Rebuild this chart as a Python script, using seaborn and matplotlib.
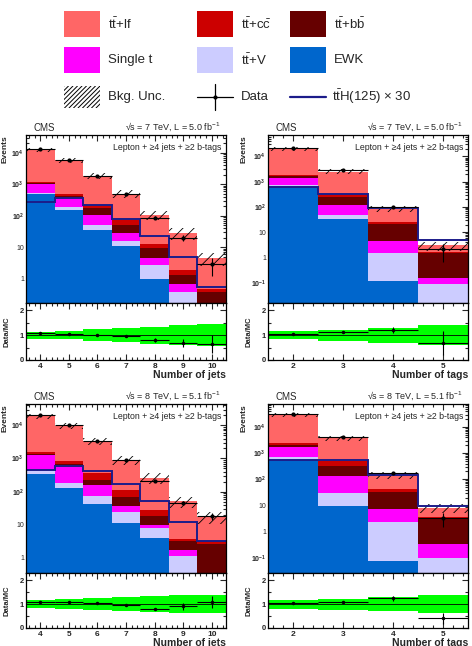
import numpy as np
import pandas as pd
import seaborn as sns
import matplotlib.pyplot as plt
from matplotlib.patches import Rectangle
from matplotlib.ticker import FixedLocator, MultipleLocator, FuncFormatter, LogLocator, NullFormatter

sns.set_style('ticks')
plt.rcParams['font.family'] = ['Liberation Sans', 'DejaVu Sans']
plt.rcParams['mathtext.fontset'] = 'custom'
plt.rcParams['mathtext.rm'] = 'Liberation Sans'
plt.rcParams['mathtext.it'] = 'Liberation Sans:italic'
plt.rcParams['mathtext.bf'] = 'Liberation Sans:bold'
plt.rcParams['hatch.linewidth'] = 0.6

# stack order: first = top of stack, last = bottom
procs = ['ttlf', 'ttcc', 'ttbb', 'singlet', 'ttV', 'EWK']
colors = {'ttlf': '#ff6666', 'ttcc': '#cc0000', 'ttbb': '#660000',
          'singlet': '#ff00ff', 'ttV': '#ccccff', 'EWK': '#0066cc'}
tth_color = '#1c1c8a'

jet_bins = [4, 5, 6, 7, 8, 9, 10]
tag_bins = [2, 3, 4, 5]

# 7 TeV, number of jets
j7_ewk = [500, 155, 36, 11, 1.0, 0.1, 0.02]
j7_ttv = [40, 30, 16, 5.4, 1.7, 0.27, 0.03]
j7_st = [500, 180, 56, 12.6, 1.8, 0.31, 0.05]
j7_bb = [100, 70, 67, 23, 4.8, 0.62, 0.27]
j7_cc = [90, 65, 50, 23, 3.5, 0.6, 0.12]
j7_lf = [10970, 5350, 1675, 425, 95, 27, 4.0]
j7_tth = [280, 360, 220, 80, 23, 5, 0.55]
j7_data = [13200, 6080, 1900, 485, 87, 20, 2.9]
j7_unc = [0.15, 0.17, 0.24, 0.28, 0.34, 0.40, 0.45]

# 7 TeV, number of tags
t7_ewk = [615, 35, 0.115, 0.005]
t7_ttv = [145, 12, 1.45, 0.085]
t7_st = [660, 77, 3.0, 0.07]
t7_bb = [200, 126, 17.4, 1.32]
t7_cc = [150, 66, 4.0, 0.22]
t7_lf = [17730, 2204, 61, 1.3]
t7_tth = [600, 316, 95, 4.9]
t7_data = [20500, 2850, 104, 2.1]
t7_unc = [0.17, 0.23, 0.30, 0.40]

# 8 TeV, number of jets
j8_ewk = [333, 132, 41, 11.4, 4.0, 0.2, 0.05]
j8_ttv = [104, 50, 31, 12.6, 4.0, 0.92, 0.05]
j8_st = [813, 368, 83, 13, 2.0, 0.58, 0.05]
j8_bb = [150, 140, 65, 32, 9, 1.6, 2.45]
j8_cc = [190, 150, 155, 46, 8, 0.3, 0.6]
j8_lf = [17410, 8720, 2925, 805, 238, 47.4, 13.8]
j8_tth = [460, 590, 410, 166, 52, 12, 3.2]
j8_data = [20500, 10300, 3430, 890, 210, 46, 18.7]
j8_unc = [0.17, 0.20, 0.25, 0.30, 0.35, 0.38, 0.38]

# 8 TeV, number of tags
t8_ewk = [545, 9.5, 0.076, 0.003]
t8_ttv = [175, 21.5, 2.2, 0.097]
t8_st = [1030, 102, 4.8, 0.23]
t8_bb = [350, 187, 25.9, 2.62]
t8_cc = [400, 180, 8, 0.75]
t8_lf = [27500, 3140, 100, 4.6]
t8_tth = [545, 545, 141, 9.5]
t8_data = [31000, 4000, 175, 3.3]
t8_unc = [0.19, 0.23, 0.30, 0.38]

W, H = 472, 646
fig = plt.figure(figsize=(W / 100, H / 100), dpi=100)


def add_ax(l, t, r, b):
    return fig.add_axes([l / W, 1 - b / H, (r - l) / W, (b - t) / H])


def log_fmt(v, pos):
    if v <= 0:
        return ''
    e = int(round(np.log10(v)))
    if abs(v - 10.0 ** e) > 1e-6 * v:
        return ''
    if e == 0:
        return '1'
    if e == 1:
        return '10'
    return r'$\mathbf{10^{%d}}$' % e


def style_ticks(ax):
    ax.tick_params(which='both', direction='in', top=True, right=True, width=0.8)
    ax.tick_params(which='major', length=4)
    ax.tick_params(which='minor', length=2)
    for s in ax.spines.values():
        s.set_linewidth(0.9)
        s.set_color('black')


def draw_panel(box, bins, stacks, tth, data, unc, ylim, energy, xlabel):
    l, t, r, b, rb = box
    ax = add_ax(l, t, r, b)
    axr = add_ax(l, b, r, rb)
    centers = np.array(bins, dtype=float)
    edges = np.append(centers - 0.5, centers[-1] + 0.5)

    rows = []
    for name in procs:
        for c, v in zip(centers, stacks[name]):
            rows.append({'x': c, 'w': v, 'proc': name})
    df = pd.DataFrame(rows)
    sns.histplot(data=df, x='x', weights='w', hue='proc', hue_order=procs,
                 palette=colors, multiple='stack', bins=list(edges), element='bars',
                 linewidth=0, alpha=1, legend=False, ax=ax)
    ax.set_yscale('log')

    mc = np.sum([np.array(stacks[p]) for p in procs], axis=0)
    unc = np.array(unc)
    data = np.array(data, dtype=float)
    lo = np.append(mc * (1 - unc), mc[-1] * (1 - unc[-1]))
    hi = np.append(mc * (1 + unc), mc[-1] * (1 + unc[-1]))
    ax.fill_between(edges, lo, hi, step='post', hatch='///', facecolor='none',
                    edgecolor='black', linewidth=0)
    ax.stairs(tth, edges, color=tth_color, linewidth=1.4, baseline=None)
    ax.errorbar(centers, data, yerr=np.sqrt(data), xerr=0.5, fmt='o', ms=2,
                color='black', elinewidth=0.8, capsize=0)

    ax.set_xlim(edges[0], edges[-1])
    ax.set_ylim(*ylim)
    decades = [10.0 ** e for e in range(int(np.ceil(np.log10(ylim[0]))),
                                        int(np.floor(np.log10(ylim[1]))) + 1)]
    ax.yaxis.set_major_locator(FixedLocator(decades))
    ax.yaxis.set_minor_locator(LogLocator(base=10, subs=np.arange(2, 10), numticks=15))
    ax.yaxis.set_major_formatter(FuncFormatter(log_fmt))
    ax.yaxis.set_minor_formatter(NullFormatter())
    ax.xaxis.set_major_locator(FixedLocator(centers))
    ax.xaxis.set_minor_locator(MultipleLocator(0.2))
    ax.set_xticklabels([])
    ax.set_xlabel('')
    ax.set_ylabel('Events', loc='top', fontsize=6, fontweight='bold', labelpad=2)
    style_ticks(ax)
    ax.tick_params(axis='y', labelsize=5, pad=1.5)

    ax.text(0.035, 1.012, 'CMS', transform=ax.transAxes, fontsize=7, ha='left', va='bottom')
    ax.text(0.975, 1.012, energy, transform=ax.transAxes, fontsize=6.5, ha='right', va='bottom')
    ax.text(0.975, 0.955, 'Lepton + \u22654 jets + \u22652 b-tags', transform=ax.transAxes,
            fontsize=6.3, ha='right', va='top')

    # ratio panel
    band_lo = np.append(1 - unc, 1 - unc[-1])
    band_hi = np.append(1 + unc, 1 + unc[-1])
    axr.fill_between(edges, band_lo, band_hi, step='post', color='#00ff00', linewidth=0)
    axr.axhline(1, color='black', linewidth=0.6)
    axr.errorbar(centers, data / mc, yerr=np.sqrt(data) / mc, xerr=0.5, fmt='o', ms=1.5,
                 color='black', elinewidth=0.8, capsize=0)
    axr.set_xlim(edges[0], edges[-1])
    axr.set_ylim(0, 2.3)
    axr.yaxis.set_major_locator(FixedLocator([0, 1, 2]))
    axr.yaxis.set_minor_locator(MultipleLocator(0.5))
    axr.xaxis.set_major_locator(FixedLocator(centers))
    axr.xaxis.set_minor_locator(MultipleLocator(0.2))
    axr.set_xticklabels([str(int(c)) for c in centers])
    style_ticks(axr)
    axr.tick_params(axis='x', labelsize=6, pad=2)
    axr.tick_params(axis='y', labelsize=5.5, pad=1.5)
    for lab in axr.get_xticklabels() + axr.get_yticklabels():
        lab.set_fontweight('bold')
    axr.set_ylabel('Data/MC', fontsize=5.5, fontweight='bold', labelpad=6.5)
    axr.set_xlabel(xlabel, loc='right', fontsize=7.5, fontweight='bold', labelpad=0.5)


def stacks_of(lf, cc, bb, st, ttv, ewk):
    return {'ttlf': lf, 'ttcc': cc, 'ttbb': bb, 'singlet': st, 'ttV': ttv, 'EWK': ewk}


e7 = '\u221as = 7 TeV, L = 5.0 fb$^{-1}$'
e8 = '\u221as = 8 TeV, L = 5.1 fb$^{-1}$'

draw_panel((26, 135, 226, 303, 360), jet_bins,
           stacks_of(j7_lf, j7_cc, j7_bb, j7_st, j7_ttv, j7_ewk),
           j7_tth, j7_data, j7_unc, (0.17, 3.7e4), e7, 'Number of jets')
draw_panel((268, 135, 468, 303, 360), tag_bins,
           stacks_of(t7_lf, t7_cc, t7_bb, t7_st, t7_ttv, t7_ewk),
           t7_tth, t7_data, t7_unc, (0.016, 7e4), e7, 'Number of tags')
draw_panel((26, 404, 226, 573, 628), jet_bins,
           stacks_of(j8_lf, j8_cc, j8_bb, j8_st, j8_ttv, j8_ewk),
           j8_tth, j8_data, j8_unc, (0.35, 4.4e4), e8, 'Number of jets')
draw_panel((268, 404, 468, 573, 628), tag_bins,
           stacks_of(t8_lf, t8_cc, t8_bb, t8_st, t8_ttv, t8_ewk),
           t8_tth, t8_data, t8_unc, (0.026, 7.6e4), e8, 'Number of tags')

# legend block at the top, drawn in a pixel-coordinate axes
lax = fig.add_axes([0, 1 - 120 / H, 1, 120 / H])
lax.set_xlim(0, W)
lax.set_ylim(120, 0)
lax.axis('off')

tt = r'$\mathrm{t\bar{t}}$'
legend_rows = [
    [('ttlf', tt + '+lf'), ('ttcc', tt + r'+$\mathrm{c\bar{c}}$'), ('ttbb', tt + r'+$\mathrm{b\bar{b}}$')],
    [('singlet', 'Single t'), ('ttV', tt + '+V'), ('EWK', 'EWK')],
]
col_x = [64, 197, 290]
row_y = [24, 60]

for ry, row in zip(row_y, legend_rows):
    for cx, (key, label) in zip(col_x, row):
        lax.add_patch(Rectangle((cx, ry - 13), 36, 26, facecolor=colors[key], edgecolor='none'))
        lax.text(cx + 44, ry, label, fontsize=9.5, ha='left', va='center')

ry = 97
# hatched swatch: diagonal strokes clipped to the swatch box
swatch = Rectangle((64, ry - 11), 36, 22, facecolor='none', edgecolor='none')
lax.add_patch(swatch)
for x0 in np.arange(64 - 22, 100, 4.5):
    ln, = lax.plot([x0, x0 + 22], [ry + 11, ry - 11], color='black', linewidth=0.7)
    ln.set_clip_path(swatch)

lax.text(108, ry, 'Bkg. Unc.', fontsize=9.5, ha='left', va='center')
lax.plot([197, 233], [ry, ry], color='black', linewidth=0.9)
lax.plot([215, 215], [ry - 13, ry + 13], color='black', linewidth=0.9)
lax.plot([215], [ry], marker='o', ms=2, color='black')
lax.text(241, ry, 'Data', fontsize=9.5, ha='left', va='center')
lax.plot([290, 326], [ry, ry], color=tth_color, linewidth=1.6)
lax.text(332, ry, tt + 'H(125) \u00d7 30', fontsize=9.5, ha='left', va='center')

fig.savefig('out.png', dpi=100)
